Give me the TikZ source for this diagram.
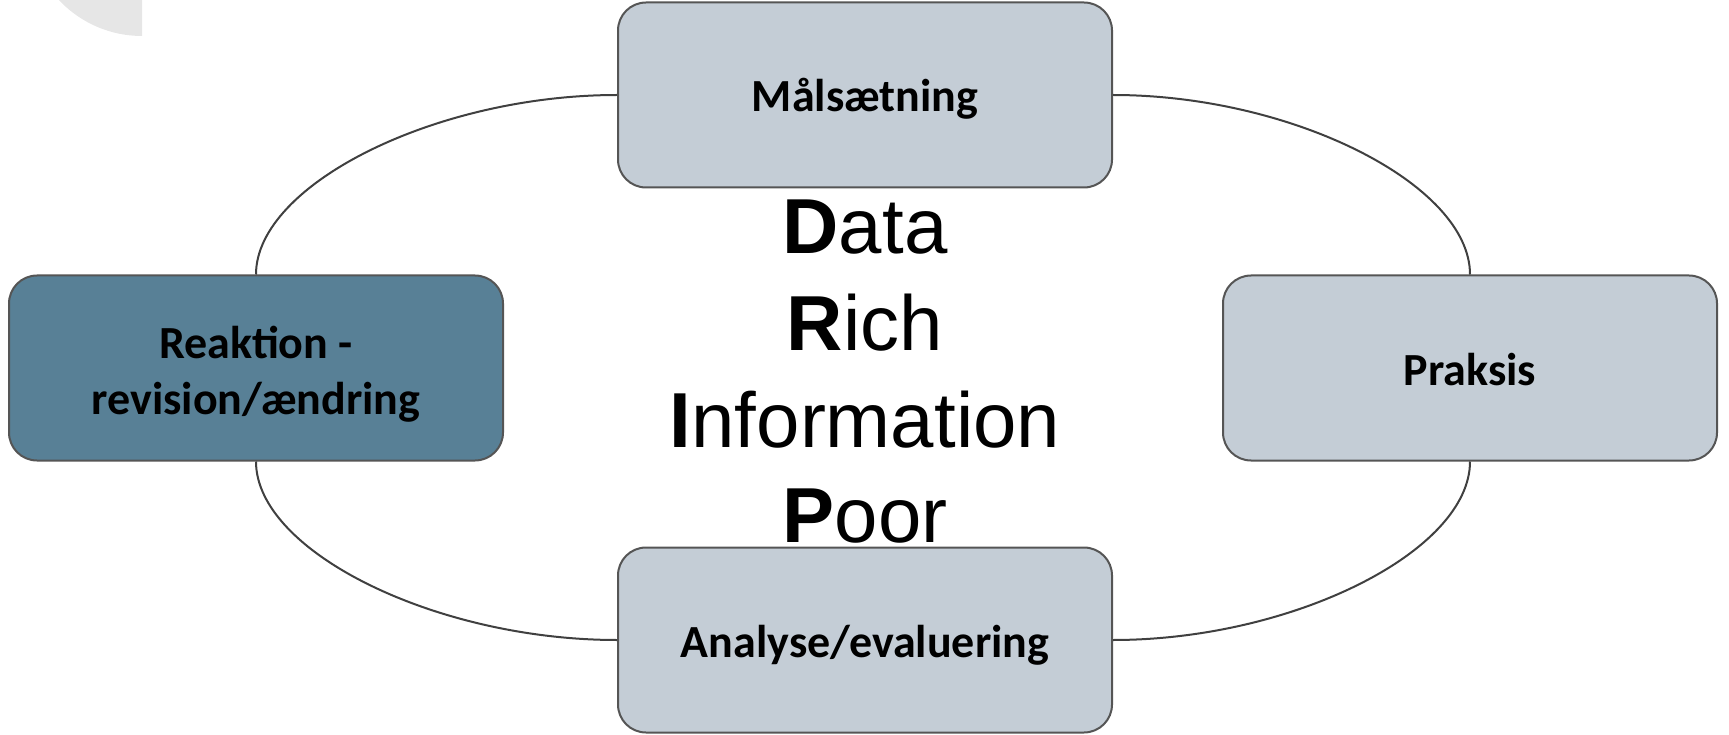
\documentclass[tikz,border=0pt]{standalone}
\usepackage{fontspec}
\setmainfont{Liberation Sans}
\newfontfamily\boxfont{Carlito}
\definecolor{lightfill}{RGB}{196,205,214}
\definecolor{darkfill}{RGB}{88,128,150}
\definecolor{boxline}{RGB}{85,85,85}
\definecolor{connline}{RGB}{64,64,64}
\definecolor{cornergray}{RGB}{230,230,230}
\tikzset{
  box/.style={draw=boxline, line width=2pt, rounded corners=28pt,
    minimum width=494pt, minimum height=185pt, inner sep=0pt, align=center,
    font=\boxfont\bfseries\fontsize{46}{56}\selectfont},
  lightbox/.style={box, fill=lightfill, text height=40pt, text depth=6pt},
  darkbox/.style={box, fill=darkfill},
  conn/.style={draw=connline, line width=2pt},
  acro/.style={anchor=base, inner sep=0pt, font=\fontsize{78}{90}\selectfont}
}
\begin{document}
\begin{tikzpicture}[x=1pt,y=-1pt]
\useasboundingbox (0,0) rectangle (1729,735);
\begin{scope}
  \clip (0,0) rectangle (142,60);
  \fill[cornergray] (142,-78) circle[radius=114];
\end{scope}
\node[lightbox] (goal) at (865,95) {Målsætning};
\node[lightbox] (prax) at (1470,368) {Praksis};
\node[lightbox] (anal) at (865,640) {Analyse/evaluering};
\node[darkbox] (reak) at (256,368) {\rule{0pt}{45pt}Reaktion -\\revision/ændring};
\draw[conn] (goal.east) .. controls +(179,0) and +(0,-90) .. (prax.north);
\draw[conn] (prax.south) .. controls +(0,90) and +(179,0) .. (anal.east);
\draw[conn] (anal.west) .. controls +(-181,0) and +(0,90) .. (reak.south);
\draw[conn] (reak.north) .. controls +(0,-90) and +(-181,0) .. (goal.west);
\node[acro] (l1) at (865,254) {\textbf{D}ata};
\node[acro] (l2) at (865,350) {\textbf{R}ich};
\node[acro] (l3) at (865,447) {\textbf{I}nformation};
\node[acro] (l4) at (865,542) {\textbf{P}oor};
\end{tikzpicture}
\end{document}
